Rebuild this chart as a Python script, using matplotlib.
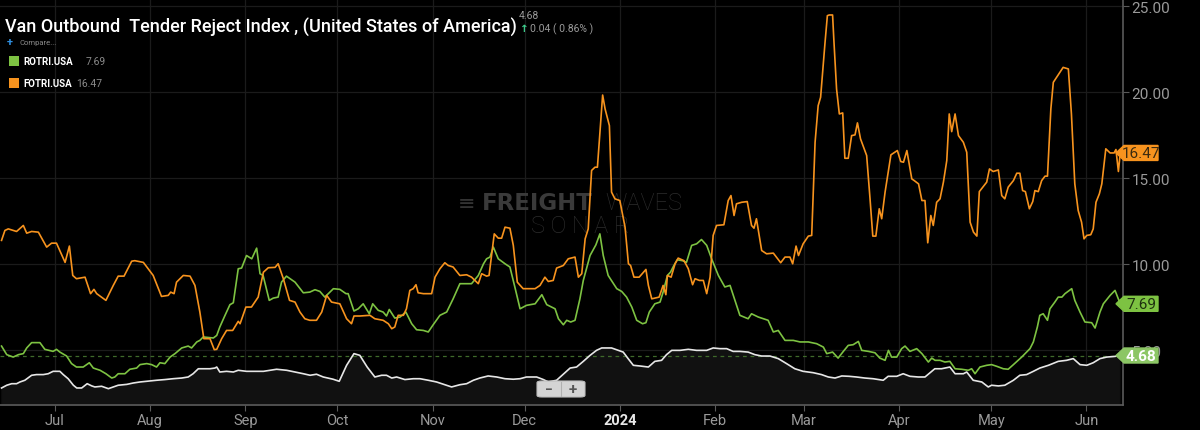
import numpy as np
import pandas as pd
import matplotlib
matplotlib.use("Agg")
import matplotlib.pyplot as plt
from matplotlib.patches import Polygon, FancyBboxPatch
from matplotlib.transforms import blended_transform_factory

plt.rcParams["font.family"] = ["Roboto", "DejaVu Sans"]

# days counted from 2023-07-01
base_date = pd.Timestamp("2023-07-01")

fotri_day = [-17.4, -16.3, -15.2, -12.5, -10.3, -9.2, -7.6, -5.4, -2.7, -1.1, 0.5, 3.3, 4.7, 5.8, 7.0, 9.8,
             11.6, 12.7, 13.6, 16.6, 19.0, 20.6, 22.5, 25.0, 26.0, 28.8, 32.0, 34.7, 36.9, 37.7, 38.8, 39.6,
             41.8, 44.0, 45.6, 47.2, 48.5, 50.5, 51.9, 52.7, 54.3, 55.9, 57.9, 59.7, 60.3, 62.2, 64.0, 66.2,
             67.9, 69.5, 71.7, 72.7, 74.4, 76.4, 78.2, 79.8, 81.4, 83.0, 85.2, 86.9, 88.5, 90.1, 92.8, 95.0,
             96.6, 97.4, 99.3, 102.6, 104.2, 106.9, 108.6, 109.7, 110.7, 111.8, 113.5, 114.5, 115.6, 116.7,
             117.6, 118.3, 120.0, 122.7, 123.8, 125.4, 127.0, 128.1, 129.7, 131.9, 134.1, 135.7, 137.9, 139.0,
             140.6, 141.4, 143.1, 144.4, 145.5, 146.6, 148.2, 149.3, 150.6, 152.5, 156.4, 158.0, 159.6, 160.7,
             162.3, 163.4, 165.6, 167.2, 169.4, 170.5, 171.6, 172.7, 173.7, 174.8, 175.9, 176.7, 178.4, 179.2,
             180.6, 181.3, 182.4, 184.0, 185.7, 186.8, 187.5, 188.6, 190.3, 192.5, 193.3, 194.4, 196.8, 198.1,
             199.0, 199.5, 200.7, 202.0, 203.0, 204.9, 206.3, 207.7, 208.5, 209.9, 211.2, 212.3, 213.4, 214.4,
             215.5, 217.9, 219.3, 220.2, 221.2, 222.0, 223.7, 225.5, 226.9, 227.7, 228.5, 230.2, 231.8, 234.0,
             236.4, 237.8, 239.4, 240.3, 241.4, 242.2, 243.7, 245.4, 246.5, 247.6, 248.6, 249.4, 250.8, 251.6,
             252.2, 253.3, 253.7, 254.6, 255.5, 256.6, 257.3, 258.4, 259.5, 260.6, 261.4, 262.4, 264.4, 265.5,
             266.4, 267.4, 268.5, 269.3, 270.4, 272.3, 274.4, 275.5, 276.4, 277.5, 279.1, 279.9, 281.3, 282.4,
             283.4, 284.3, 285.3, 286.1, 287.2, 288.3, 289.4, 290.5, 291.3, 292.1, 293.2, 294.3, 295.9, 297.0,
             298.1, 299.2, 300.3, 301.1, 303.5, 304.4, 305.6, 307.3, 308.4, 309.4, 310.5, 312.2, 313.3, 314.3,
             315.2, 316.1, 317.4, 318.5, 319.2, 320.3, 321.4, 322.5, 323.3, 324.4, 325.2, 328.4, 330.1, 331.1,
             332.2, 333.3, 334.4, 335.2, 336.1, 337.4, 338.2, 339.1, 340.2, 341.0, 342.3, 343.7, 345.0, 345.6,
             346.4, 347.0]
fotri_val = [11.38, 11.96, 12.05, 11.90, 12.25, 11.80, 11.90, 11.86, 10.99, 11.22, 11.22, 10.10, 11.05, 9.34, 9.15, 9.24,
             8.28, 8.53, 8.28, 7.89, 8.76, 9.30, 9.30, 10.17, 10.20, 10.10, 9.34, 8.12, 8.18, 8.37, 8.28, 8.95,
             9.34, 9.30, 8.76, 7.21, 5.66, 5.66, 5.02, 5.04, 5.66, 6.14, 6.14, 6.67, 6.53, 7.50, 7.50, 8.08,
             9.53, 9.79, 9.81, 10.02, 9.15, 7.89, 7.79, 7.21, 6.82, 6.73, 6.73, 7.21, 8.18, 7.79, 7.69, 6.82,
             6.53, 6.98, 6.98, 7.02, 6.82, 6.73, 6.53, 6.24, 6.34, 7.02, 7.02, 7.40, 8.47, 8.57,
             8.80, 8.33, 8.28, 8.28, 9.24, 9.73, 10.08, 9.92, 9.83, 9.34, 9.38, 9.24, 8.86, 9.44,
             9.30, 9.34, 11.76, 11.51, 11.51, 12.15, 12.09, 11.09, 8.95, 8.57, 8.57, 8.76, 9.24, 8.99,
             9.05, 9.77, 9.92, 10.31, 10.41, 9.24, 9.44, 11.47, 12.05, 15.45, 15.64, 15.64, 19.84, 19.03,
             18.06, 14.19, 13.80, 13.70, 12.15, 10.02, 9.92, 9.24, 9.24, 9.69, 8.76, 7.98, 8.08, 8.76,
             8.22, 9.34, 9.24, 10.02, 10.35, 10.20, 9.73, 8.80, 9.15, 9.05, 9.05, 8.28, 9.24, 11.67,
             12.25, 12.29, 13.70, 13.99, 12.83, 13.51, 13.60, 13.64, 12.25, 12.09, 12.64, 10.79, 10.60, 10.64,
             10.08, 10.41, 10.41, 10.02, 11.05, 10.50, 11.18, 11.63, 11.67, 17.09, 19.22, 19.71, 22.81, 24.46,
             24.50, 24.50, 23.10, 20.19, 18.74, 18.80, 16.16, 16.16, 17.48, 17.52, 18.22, 17.29, 16.32, 13.80,
             11.63, 11.63, 13.22, 12.64, 14.19, 16.36, 16.61, 15.97, 15.93, 16.61, 14.96, 14.86, 14.67, 13.70,
             13.70, 11.24, 12.83, 12.25, 13.60, 13.80, 14.77, 16.03, 18.74, 17.71, 18.74, 17.48, 17.09, 16.51,
             12.44, 11.86, 11.63, 14.22, 14.77, 15.54, 15.39, 15.48, 13.99, 13.80, 14.48, 14.86, 15.29, 15.29,
             14.28, 14.22, 13.22, 13.64, 14.28, 14.22, 14.86, 15.12, 15.12, 19.03, 20.58, 21.45, 21.36, 18.74,
             14.67, 13.12, 12.44, 11.47, 11.67, 11.71, 12.05, 13.60, 14.09, 14.67, 16.71, 16.47, 16.47, 16.67,
             15.39, 16.47]

rotri_day = [-17.4, -15.7, -13.6, -11.9, -10.3, -9.2, -7.6, -4.9, -3.3, -0.6, 0.5, 1.6, 3.8, 5.4, 7.0, 9.2,
             11.2, 12.5, 14.7, 16.6, 18.5, 19.5, 20.6, 22.8, 24.4, 26.6, 27.7, 29.9, 31.5, 33.1, 34.2, 35.8,
             37.5, 39.1, 41.3, 43.4, 44.5, 46.2, 47.2, 48.3, 51.6, 52.7, 53.7, 55.4, 57.0, 58.1, 59.7, 60.8,
             62.4, 64.1, 65.7, 66.8, 67.8, 69.8, 71.1, 72.7, 73.8, 75.4, 78.2, 80.9, 83.0, 84.7, 86.3, 87.9,
             90.7, 92.8, 94.8, 95.5, 97.4, 98.8, 100.4, 102.4, 103.5, 105.3, 106.9, 108.0, 108.9, 110.7, 112.4,
             114.3, 116.2, 117.8, 120.0, 121.6, 123.2, 125.4, 127.6, 129.7, 131.9, 134.1, 135.7, 137.9, 139.6,
             140.6, 141.7, 142.8, 144.4, 146.6, 148.2, 149.8, 151.5, 153.6, 156.4, 158.6, 160.2, 162.9, 164.0,
             165.6, 166.7, 168.0, 169.4, 171.0, 172.1, 174.3, 176.2, 177.5, 178.6, 180.2, 183.0, 184.6, 186.2,
             187.9, 189.5, 191.4, 192.5, 193.6, 195.4, 197.1, 198.1, 199.5, 200.5, 201.6, 202.7, 204.4, 205.7,
             207.4, 209.0, 210.6, 212.3, 213.9, 216.1, 218.2, 219.9, 221.5, 223.1, 225.8, 226.9, 229.1, 232.3,
             234.0, 235.6, 237.8, 240.5, 242.7, 245.4, 248.1, 250.3, 251.4, 253.3, 255.1, 256.8, 258.4, 260.0,
             261.7, 262.8, 265.0, 267.1, 268.7, 270.4, 271.5, 272.5, 274.2, 275.8, 276.9, 278.5, 280.7, 282.4,
             284.5, 285.6, 286.7, 288.3, 289.9, 291.5, 293.2, 295.3, 297.5, 298.6, 299.7, 301.3, 303.5, 305.1,
             306.8, 308.9, 310.5, 312.2, 314.9, 317.6, 318.7, 320.0, 320.8, 321.9, 323.3, 324.1, 325.7, 326.8,
             328.0, 329.0, 331.2, 332.2, 333.9, 335.5, 337.7, 338.8, 340.4, 341.5, 343.7, 345.3, 347.0]
rotri_val = [5.23, 4.73, 4.59, 4.73, 4.79, 5.12, 5.43, 5.43, 5.04, 4.92, 5.04, 4.88, 4.65, 4.21, 4.01, 4.01,
             4.26, 3.95, 3.82, 3.62, 3.37, 3.43, 3.62, 3.62, 3.88, 3.95, 4.15, 4.21, 4.15, 4.01, 4.26, 4.21,
             4.59, 4.79, 5.12, 5.23, 5.12, 5.47, 5.56, 5.76, 5.70, 5.85, 6.34, 7.02, 7.64, 7.75, 9.73, 9.77,
             10.50, 10.31, 10.93, 9.44, 9.34, 7.89, 8.02, 8.08, 8.95, 9.30, 8.95, 8.33, 8.37, 8.51, 8.41, 8.08,
             8.57, 8.53, 8.28, 8.28, 7.27, 7.40, 7.69, 7.11, 7.69, 7.31, 7.21, 6.98, 7.36, 6.86, 6.92,
             7.21, 6.53, 6.18, 6.14, 6.05, 6.47, 7.02, 7.21, 7.98, 8.86, 8.86, 8.86, 9.34, 10.02,
             10.31, 10.41, 10.99, 10.31, 10.02, 9.83, 8.67, 7.40, 7.60, 7.69, 8.22, 7.64, 7.40, 6.82,
             6.47, 6.73, 6.63, 6.73, 7.98, 9.05, 10.50, 11.12, 11.76, 10.50, 9.34, 8.57, 8.41, 8.08,
             7.50, 6.73, 6.53, 6.59, 7.21, 7.69, 7.79, 8.37, 9.34, 9.53, 9.92, 10.25, 10.20, 10.10,
             11.09, 11.18, 11.43, 11.09, 10.31, 9.34, 8.67, 8.76, 7.89, 7.02, 6.82, 7.11, 6.92, 6.73,
             6.05, 6.14, 5.56, 5.56, 5.47, 5.47, 5.37, 5.17, 4.79, 4.88, 4.53, 4.92, 5.27, 5.31,
             5.50, 4.98, 4.92, 4.84, 4.53, 4.40, 4.98, 4.59, 4.59, 5.08, 5.23, 4.92, 5.08, 4.79,
             4.30, 4.53, 4.40, 4.40, 4.30, 4.34, 3.91, 3.88, 3.82, 3.91, 3.62, 4.01, 4.11, 4.15,
             4.05, 3.91, 3.88, 4.15, 4.59, 5.08, 5.47, 6.34, 7.02, 7.11, 6.73, 7.40, 7.79, 8.08,
             8.08, 8.28, 8.57, 7.89, 7.21, 6.63, 6.59, 6.28, 7.21, 7.69, 8.18, 8.47, 7.69]

votri_day = [-17.4, -15.7, -14.1, -12.5, -11.4, -9.8, -7.6, -6.0, -3.8, -2.2, -0.6, 1.6, 2.7, 4.3, 6.0, 7.1,
             8.7, 10.5, 12.0, 13.0, 15.2, 17.4, 19.0, 20.6, 23.4, 25.5, 27.7, 29.9, 33.1, 35.8, 38.5, 41.3,
             43.4, 45.0, 46.7, 50.5, 52.1, 52.7, 53.7, 55.9, 58.1, 59.7, 62.4, 65.1, 67.9, 70.0, 72.2, 75.5,
             78.2, 80.9, 83.1, 85.2, 87.4, 90.6, 92.6, 95.0, 97.4, 99.3, 101.7, 104.2, 106.4, 108.0, 109.7,
             111.3, 114.0, 116.7, 118.9, 121.6, 124.3, 127.0, 129.2, 131.9, 134.1, 136.3, 138.4, 141.1, 143.9,
             146.6, 149.3, 151.5, 153.6, 156.9, 159.1, 160.7, 163.4, 166.1, 167.8, 169.9, 172.1, 174.3, 176.4,
             178.1, 181.3, 183.5, 185.1, 186.7, 188.4, 190.6, 193.3, 195.4, 197.6, 199.2, 200.9, 203.6, 206.3,
             209.0, 212.3, 214.4, 216.6, 218.8, 220.9, 223.1, 225.8, 228.0, 230.2, 232.9, 235.6, 238.3, 241.0,
             243.7, 247.0, 249.7, 251.9, 254.1, 256.3, 258.7, 261.1, 263.8, 266.5, 269.8, 271.4, 274.2, 276.3,
             278.5, 281.2, 283.4, 286.6, 288.8, 291.5, 293.2, 295.9, 297.0, 299.1, 301.9, 304.0, 305.1, 307.3,
             309.4, 312.2, 314.3, 316.5, 318.7, 320.8, 323.6, 326.8, 329.5, 331.7, 333.9, 336.1, 338.2, 340.4,
             342.6, 345.3, 346.7]
votri_val = [2.79, 2.95, 3.04, 3.04, 3.14, 3.24, 3.53, 3.57, 3.57, 3.62, 3.76, 3.76, 3.57, 3.33, 2.95, 2.79,
             2.79, 3.04, 2.91, 2.85, 2.89, 2.75, 2.85, 2.95, 3.00, 3.08, 3.14, 3.18, 3.24, 3.28, 3.33, 3.37,
             3.43, 3.62, 3.91, 3.91, 3.95, 4.01, 3.72, 3.76, 3.72, 3.82, 3.76, 3.76, 3.76, 3.82, 3.88, 3.82,
             3.72, 3.62, 3.53, 3.59, 3.43, 3.30, 3.18, 4.11, 4.79, 4.69, 4.01, 3.43, 3.53, 3.53, 3.37,
             3.43, 3.28, 3.33, 3.33, 3.24, 3.14, 2.98, 2.85, 2.98, 3.04, 3.24, 3.37, 3.49, 3.43,
             3.33, 3.30, 3.33, 3.43, 3.43, 3.28, 3.14, 3.24, 3.68, 3.95, 4.01, 4.34, 4.69, 4.98,
             5.12, 5.12, 4.98, 4.88, 4.50, 4.11, 4.07, 4.01, 4.34, 4.40, 4.73, 4.98, 4.98, 5.04,
             4.98, 4.98, 5.12, 5.08, 5.08, 4.92, 4.92, 4.88, 4.73, 4.65, 4.65, 4.50, 4.21, 3.91,
             3.76, 3.68, 3.57, 3.43, 3.37, 3.49, 3.47, 3.43, 3.37, 3.33, 3.24, 3.47, 3.47, 3.62,
             3.47, 3.43, 3.43, 3.91, 3.91, 4.01, 3.62, 3.62, 3.72, 3.24, 3.14, 2.85, 2.95, 2.91,
             2.95, 3.24, 3.53, 3.57, 3.76, 3.95, 4.11, 4.34, 4.40, 4.50, 4.15, 4.11, 4.26, 4.50,
             4.59, 4.63, 4.68]

month_ticks = ["2023-07-01", "2023-08-01", "2023-09-01", "2023-10-01", "2023-11-01", "2023-12-01",
               "2024-01-01", "2024-02-01", "2024-03-01", "2024-04-01", "2024-05-01", "2024-06-01"]
month_labels = ["Jul", "Aug", "Sep", "Oct", "Nov", "Dec", "2024", "Feb", "Mar", "Apr", "May", "Jun"]
y_ticks = [5, 10, 15, 20, 25]

last_votri, last_rotri, last_fotri = 4.68, 7.69, 16.47

ORANGE = "#f7931e"
GREEN = "#7dc242"
LIGHT_GREEN = "#8cc665"
WHITE = "#e6e6e6"


def to_dates(days):
    return base_date + pd.to_timedelta(np.array(days), unit="D")


fig = plt.figure(figsize=(12, 4.31), dpi=100, facecolor="black")
W, H = 1200, 431
ax = fig.add_axes([0, 1 - 406 / H, 1123 / W, 406 / H], facecolor="black")

x_lo = base_date - pd.Timedelta(days=17.9)
x_hi = base_date + pd.Timedelta(days=347.9)
y_lo, y_hi = 1.8, 25.43

# grid
for t in month_ticks:
    ax.axvline(pd.Timestamp(t), color="#1b1b1b", lw=0.9, zorder=0)
for v in y_ticks:
    ax.axhline(v, color="#1b1b1b", lw=0.9, zorder=0)

# watermark, drawn under the lines
ax.text(458 / W, 1 - 204 / H, "\u2261", color="#333333", fontsize=15, ha="left", va="center",
        transform=fig.transFigure, zorder=0.5, family=["DejaVu Sans"])
ax.text(482 / W, 1 - 204 / H, "FREIGHT", color="#3a3a3a", fontsize=16.5, fontweight="bold",
        ha="left", va="center", transform=fig.transFigure, zorder=0.5, family=["DejaVu Sans"])
ax.text(605 / W, 1 - 204 / H, "WAVES", color="#2c2c2c", fontsize=17, fontweight="light",
        ha="left", va="center", transform=fig.transFigure, zorder=0.5)
ax.text(580 / W, 1 - 226 / H, "S O N A R", color="#2c2c2c", fontsize=17, fontweight="light",
        ha="center", va="center", transform=fig.transFigure, zorder=0.5)

vd = to_dates(votri_day)
ax.fill_between(vd, votri_val, y_lo, color="#111111", zorder=1)
ax.plot(vd, votri_val, color=WHITE, lw=1.2, zorder=4)
ax.plot(to_dates(rotri_day), rotri_val, color=GREEN, lw=1.2, zorder=3)
ax.plot(to_dates(fotri_day), fotri_val, color=ORANGE, lw=1.2, zorder=3)
ax.axhline(last_votri, color="#3f6a2a", lw=0.9, ls=(0, (3, 3)), zorder=2)

ax.set_xlim(x_lo, x_hi)
ax.set_ylim(y_lo, y_hi)

for s in ["left", "top"]:
    ax.spines[s].set_visible(False)
for s in ["right", "bottom"]:
    ax.spines[s].set_color("#5a5a5a")
    ax.spines[s].set_linewidth(1.2)

ax.set_xticks(pd.to_datetime(month_ticks))
ax.set_xticklabels(month_labels)
ax.tick_params(axis="x", colors="#5a5a5a", length=4, labelcolor="#9a9a9a", labelsize=10.5, pad=2)
for lbl in ax.get_xticklabels():
    if lbl.get_text() == "2024":
        lbl.set_color("#e8e8e8")
        lbl.set_fontweight("bold")

ax.yaxis.tick_right()
ax.set_yticks(y_ticks)
ax.set_yticklabels([f"{v:.2f}" for v in y_ticks])
ax.tick_params(axis="y", length=4, colors="#5a5a5a", labelcolor="#9a9a9a", labelsize=11, pad=2)

# value tags at right edge
trans = blended_transform_factory(ax.transAxes, ax.transData)
half = 7.5 / 17.18
x_tip, x_box, x_end = 1116 / 1123, 1124 / 1123, 1158 / 1123
for val, col, tcol, weight in [(last_fotri, ORANGE, "#3a2a10", "normal"),
                               (last_rotri, GREEN, "#1e3010", "normal"),
                               (last_votri, LIGHT_GREEN, "white", "bold")]:
    poly = Polygon([(x_tip, val), (x_box, val + half), (x_end, val + half),
                    (x_end, val - half), (x_box, val - half)],
                   closed=True, transform=trans, facecolor=col, edgecolor=col,
                   clip_on=False, zorder=6)
    ax.add_patch(poly)
    ax.text((x_box + x_end) / 2, val, f"{val:.2f}", transform=trans, ha="center", va="center",
            fontsize=11, color=tcol, fontweight=weight, zorder=7, clip_on=False)

# zoom buttons
btn = FancyBboxPatch((537 / W, 1 - 398 / H), 48 / W, 16 / H,
                     boxstyle="round,pad=0,rounding_size=0.004", transform=fig.transFigure,
                     facecolor="#d4d4d4", edgecolor="#bdbdbd", lw=0.8, zorder=8)
fig.patches.append(btn)
fig.add_artist(plt.Line2D([561 / W, 561 / W], [1 - 397 / H, 1 - 383 / H], color="#b0b0b0",
                          lw=0.8, transform=fig.transFigure, zorder=9))
fig.text(549 / W, 1 - 390 / H, "\u2212", color="#555555", fontsize=10, fontweight="bold",
         ha="center", va="center", zorder=10)
fig.text(573 / W, 1 - 390 / H, "+", color="#555555", fontsize=11, fontweight="bold",
         ha="center", va="center", zorder=10)

# header
fig.text(5 / W, 1 - 28 / H, "Van Outbound  Tender Reject Index , (United States of America)",
         color="white", fontsize=13, fontweight="medium", ha="left", va="center")
fig.text(519 / W, 1 - 16 / H, f"{last_votri:.2f}", color="#9a9a9a", fontsize=7.5,
         ha="left", va="center")
fig.text(520 / W, 1 - 29 / H, "\u2191", color="#3ecf8e", fontsize=7.5, fontweight="bold",
         ha="left", va="center", family=["DejaVu Sans"])
fig.text(530 / W, 1 - 29 / H, "0.04 ( 0.86% )", color="#9a9a9a", fontsize=7.5,
         ha="left", va="center")
fig.text(7 / W, 1 - 43 / H, "+", color="#2f8fe0", fontsize=8, fontweight="bold",
         ha="left", va="center")
fig.text(20 / W, 1 - 43 / H, "Compare...", color="#8a8a8a", fontsize=5.5,
         ha="left", va="center")

for ypix, col, name, val, vx in [(62, GREEN, "ROTRI.USA", last_rotri, 86),
                                 (84, ORANGE, "FOTRI.USA", last_fotri, 76)]:
    fig.patches.append(plt.Rectangle((9 / W, 1 - (ypix + 5) / H), 10 / W, 10 / H,
                                     transform=fig.transFigure, facecolor=col, edgecolor="none"))
    fig.text(23 / W, 1 - ypix / H, name, color="white", fontsize=7, fontweight="bold",
             ha="left", va="center")
    fig.text(vx / W, 1 - ypix / H, f"{val:.2f}", color="#8a8a8a", fontsize=7.5,
             ha="left", va="center")

fig.savefig("out.png", dpi=100, facecolor="black")
